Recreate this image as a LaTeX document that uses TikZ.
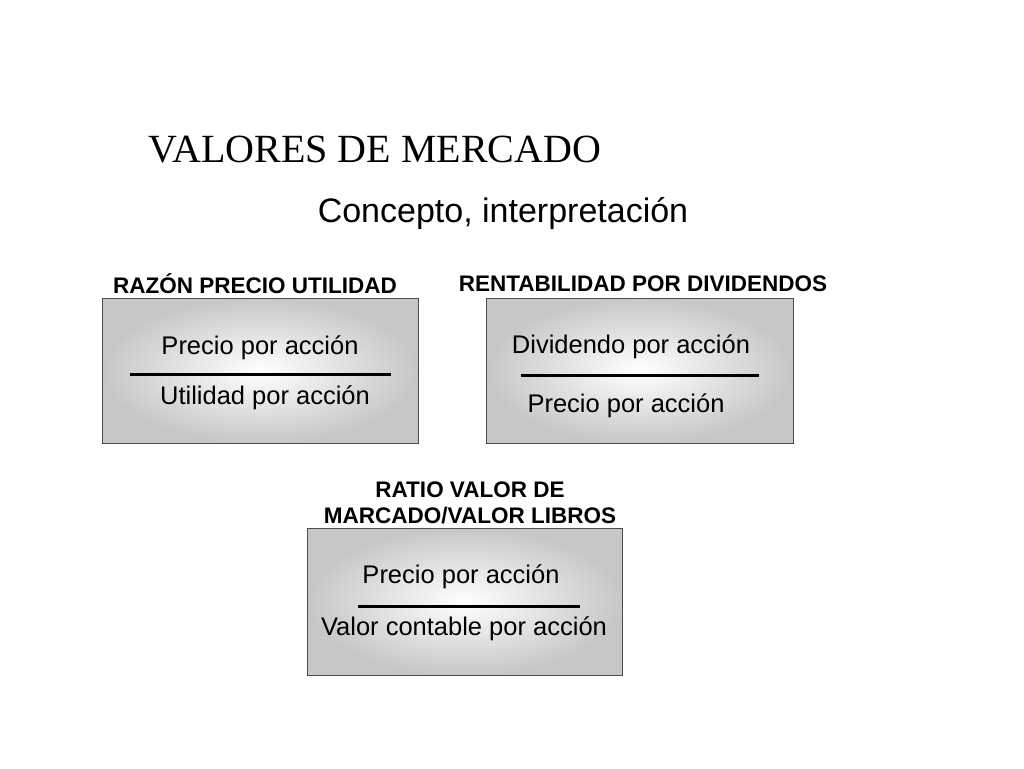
\documentclass[tikz,border=0pt]{standalone}
\usepackage{fontspec}
\setmainfont{Liberation Sans}
\newfontfamily\serifx{Liberation Serif}
\begin{document}
\begin{tikzpicture}[x=1pt,y=-1pt,
  boxx/.style={draw=black!70,line width=0.8pt,inner color=white,outer color=black!22},
  rule/.style={line width=3pt},
  lab/.style={font=\fontsize{22.5}{26}\selectfont\bfseries,align=center},
  txt/.style={font=\fontsize{25.5}{29}\selectfont}]
\useasboundingbox (0,0) rectangle (1024,768);
\node[font=\serifx\fontsize{40}{44}\selectfont] (t) at (375,150) {VALORES DE MERCADO};
\node[font=\fontsize{34}{38}\selectfont] (s) at (503,214) {Concepto, interpretación};
\node[lab] (l1) at (255,284) {RAZÓN PRECIO UTILIDAD};
\node[lab] (l2) at (643,284) {RENTABILIDAD POR DIVIDENDOS};
\node[lab,font=\fontsize{22.5}{26}\selectfont\bfseries] (l3) at (470,503) {RATIO VALOR DE\\MARCADO/VALOR LIBROS};
\shade[boxx] (102,298) rectangle (418,443);
\shade[boxx] (486,298) rectangle (793,443);
\shade[boxx] (307,528) rectangle (622,675);
\node[txt] (a1) at (260,348) {Precio por acción};
\node[txt] (a2) at (265,398) {Utilidad por acción};
\draw[rule] (130,374) -- (391,374);
\node[txt] (b1) at (631,347) {Dividendo por acción};
\node[txt] (b2) at (626,406) {Precio por acción};
\draw[rule] (521,375) -- (759,375);
\node[txt] (c1) at (461,577) {Precio por acción};
\node[txt] (c2) at (464,629) {Valor contable por acción};
\draw[rule] (358,606) -- (580,606);
\end{tikzpicture}
\end{document}
